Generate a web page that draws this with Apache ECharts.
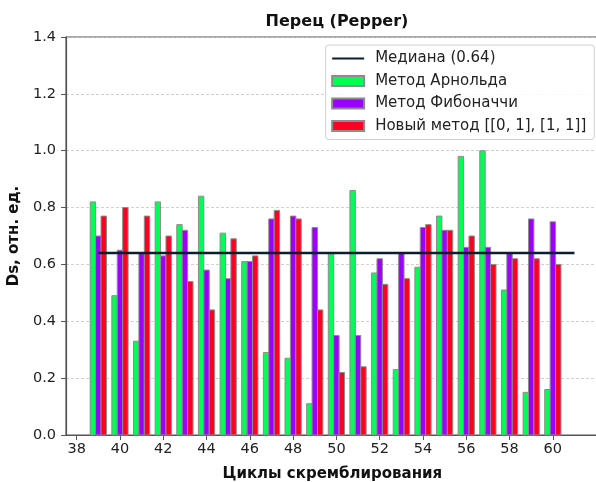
<!DOCTYPE html>
<html>
<head>
<meta charset="utf-8">
<script src="https://cdn.jsdelivr.net/npm/echarts@6/dist/echarts.min.js"></script>
<style>
  html, body { margin: 0; padding: 0; background: #fff; }
  #chart { width: 596px; height: 482px; }
</style>
</head>
<body>
<div id="chart"></div>
<script>
// Scrambling cycles (x) and Ds values for each method
const cycles = [39, 40, 41, 42, 43, 44, 45, 46, 47, 48, 49, 50, 51, 52, 53, 54, 55, 56, 57, 58, 59, 60];
const arnold = [0.82, 0.49, 0.33, 0.82, 0.74, 0.84, 0.71, 0.61, 0.29, 0.27, 0.11, 0.64, 0.86, 0.57, 0.23, 0.59, 0.77, 0.98, 1.00, 0.51, 0.15, 0.16];
const fibonacci = [0.70, 0.65, 0.64, 0.63, 0.72, 0.58, 0.55, 0.61, 0.76, 0.77, 0.73, 0.35, 0.35, 0.62, 0.64, 0.73, 0.72, 0.66, 0.66, 0.64, 0.76, 0.75];
const newMethod = [0.77, 0.80, 0.77, 0.70, 0.54, 0.44, 0.69, 0.63, 0.79, 0.76, 0.44, 0.22, 0.24, 0.53, 0.55, 0.74, 0.72, 0.70, 0.60, 0.62, 0.62, 0.60];
const median = 0.64;
const xTickLabels = [38, 40, 42, 44, 46, 48, 50, 52, 54, 56, 58, 60];
const yTicks = { min: 0, max: 1.4, step: 0.2 };

const seriesNames = ['Метод Арнольда', 'Метод Фибоначчи', 'Новый метод [[0, 1], [1, 1]]'];
const medianName = 'Медиана (' + median.toFixed(2) + ')';
const colors = ['#00ff55', '#9b00ff', '#ff0022'];
const barW = 0.25;
const offsets = [-barW, 0, barW];

function pairs(vals) {
  return cycles.map((c, i) => [c, vals[i]]);
}

// Draws one bar per cycle, shifted within its group, using the axis scales
function barRenderer(offset) {
  return function (params, api) {
    const x = api.value(0);
    const y = api.value(1);
    const p0 = api.coord([x + offset - barW / 2, y]);
    const p1 = api.coord([x + offset + barW / 2, 0]);
    return {
      type: 'rect',
      shape: { x: p0[0], y: p0[1], width: p1[0] - p0[0], height: p1[1] - p0[1] },
      style: api.style()
    };
  };
}

const lineStart = cycles[0];
const lineEnd = cycles[cycles.length - 1] + 1;
// x extent: bars plus median line, with a 5% margin on each side
const dataMin = cycles[0] + offsets[0] - barW / 2;
const pad = (lineEnd - dataMin) * 0.05;

const font = 'DejaVu Sans';
const chart = echarts.init(document.getElementById('chart'), null, { renderer: 'canvas' });

const barSeries = [arnold, fibonacci, newMethod].map((vals, k) => ({
  name: seriesNames[k],
  type: 'custom',
  renderItem: barRenderer(offsets[k]),
  data: pairs(vals),
  encode: { x: 0, y: 1 },
  itemStyle: { color: colors[k], borderColor: '#8c8c8c', borderWidth: 1 },
  z: 2
}));

chart.setOption({
  animation: false,
  backgroundColor: '#ffffff',
  title: {
    text: 'Перец (Pepper)',
    left: 332,
    textAlign: 'center',
    top: 9,
    textStyle: { fontFamily: font, fontWeight: 'bold', fontSize: 16, color: '#111' }
  },
  legend: {
    orient: 'vertical',
    right: 1.7,
    top: 45,
    padding: [5, 8, 5, 5.5],
    itemWidth: 32,
    itemHeight: 10,
    itemGap: 5.5,
    borderColor: '#d0d0d0',
    borderWidth: 1,
    borderRadius: 3,
    backgroundColor: 'rgba(255,255,255,0.85)',
    textStyle: { fontFamily: font, fontSize: 15, color: '#222', padding: [0, 0, 0, 6], lineHeight: 17 },
    data: [
      { name: medianName, itemStyle: { opacity: 0 } },
      { name: seriesNames[0], icon: 'rect' },
      { name: seriesNames[1], icon: 'rect' },
      { name: seriesNames[2], icon: 'rect' }
    ],
    selectedMode: false
  },
  grid: {
    left: 66, right: -2.7, top: 37, bottom: 47,
    outerBoundsMode: 'none',
    containLabel: false,
    show: true, borderColor: '#555', borderWidth: 1.2
  },
  xAxis: {
    type: 'value',
    min: dataMin - pad,
    max: lineEnd + pad,
    name: 'Циклы скремблирования',
    nameLocation: 'middle',
    nameGap: 32,
    nameTextStyle: { fontFamily: font, fontWeight: 'bold', fontSize: 15, color: '#111' },
    axisLine: { show: true, lineStyle: { color: '#555', width: 1.2 } },
    axisTick: { show: true, length: 5, lineStyle: { color: '#555' }, customValues: xTickLabels },
    axisLabel: { fontFamily: font, fontSize: 14.5, color: '#222', margin: 7, customValues: xTickLabels },
    splitLine: { show: false }
  },
  yAxis: {
    type: 'value',
    min: yTicks.min,
    max: yTicks.max,
    interval: yTicks.step,
    name: 'Ds, отн. ед.',
    nameLocation: 'middle',
    nameGap: 35,
    nameRotate: 90,
    nameTextStyle: { fontFamily: font, fontWeight: 'bold', fontSize: 15, color: '#111' },
    axisLine: { show: true, lineStyle: { color: '#555', width: 1.2 } },
    axisTick: { show: true, length: 5, lineStyle: { color: '#555' } },
    axisLabel: { fontFamily: font, fontSize: 14.5, color: '#222', margin: 10, formatter: v => v.toFixed(1) },
    splitLine: { show: true, lineStyle: { color: '#c4c4c4', type: [3, 2], width: 0.8 } }
  },
  series: [
    {
      name: medianName,
      type: 'line',
      data: [[lineStart, median], [lineEnd, median]],
      symbol: 'none',
      lineStyle: { color: '#0c1d30', width: 2.5 },
      itemStyle: { color: '#0c1d30' },
      z: 5
    }
  ].concat(barSeries)
});
</script>
</body>
</html>
